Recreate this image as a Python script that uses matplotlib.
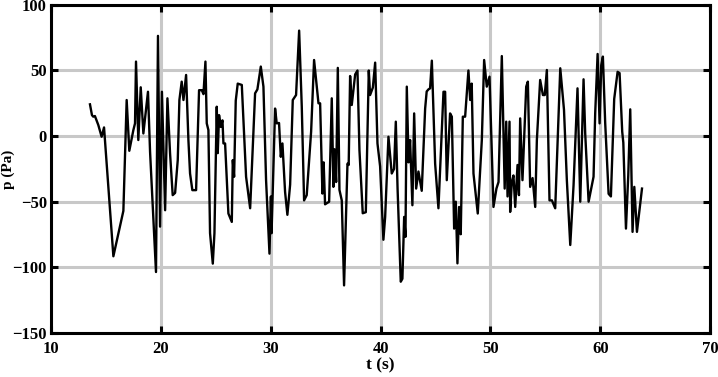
import matplotlib
matplotlib.use("Agg")
import matplotlib.pyplot as plt

# time (s) and pressure (Pa)
t = [13.55, 13.73, 13.85, 14.0, 14.31, 14.61, 14.83, 15.68, 16.59, 16.89,
     17.13, 17.5, 17.65, 17.74, 17.95, 18.17, 18.41, 18.65, 18.83, 19.02,
     19.56, 19.74, 19.93, 20.1, 20.39, 20.6, 20.84, 21.08, 21.3, 21.54,
     21.69, 21.9, 22.06, 22.3, 22.51, 22.66, 22.87, 23.21, 23.36, 23.48,
     23.73, 23.88, 24.06, 24.18, 24.33, 24.48, 24.73, 24.88, 25.09, 25.18,
     25.3, 25.46, 25.61, 25.7, 25.85, 26.15, 26.46, 26.55, 26.67, 26.82,
     27.0, 27.37, 27.76, 28.13, 28.58, 28.79, 29.1, 29.34, 29.58, 29.89,
     30.02, 30.08, 30.4, 30.55, 30.76, 30.92, 31.07, 31.31, 31.52, 31.77,
     32.01, 32.31, 32.59, 32.83, 33.04, 33.28, 33.68, 33.95, 34.35, 34.5,
     34.71, 34.82, 34.95, 35.32, 35.56, 35.71, 35.8, 35.96, 36.11, 36.26,
     36.47, 36.68, 36.99, 37.1, 37.23, 37.38, 37.69, 37.9, 38.08, 38.38,
     38.66, 38.93, 39.05, 39.3, 39.51, 39.72, 39.96, 40.26, 40.42, 40.72,
     41.02, 41.23, 41.39, 41.55, 41.63, 41.84, 41.99, 42.15, 42.27, 42.39,
     42.55, 42.69, 42.9, 43.06, 43.24, 43.45, 43.75, 44.06, 44.2, 44.36,
     44.51, 44.67, 44.97, 45.27, 45.73, 45.88, 46.03, 46.33, 46.49, 46.7,
     46.85, 47.0, 47.15, 47.3, 47.49, 47.7, 47.9, 48.0, 48.16, 48.3,
     48.46, 48.85, 49.22, 49.43, 49.67, 49.92, 50.28, 50.55, 50.74, 51.04,
     51.3, 51.44, 51.56, 51.74, 51.8, 51.95, 52.1, 52.26, 52.47, 52.6,
     52.71, 52.92, 53.26, 53.41, 53.62, 53.84, 54.08, 54.23, 54.53, 54.78,
     54.95, 55.14, 55.38, 55.6, 55.9, 56.36, 56.7, 56.96, 57.27, 57.57,
     57.93, 58.18, 58.48, 58.63, 58.94, 59.39, 59.54, 59.76, 59.94, 60.09,
     60.24, 60.45, 60.76, 60.97, 61.27, 61.58, 61.76, 62.0, 62.1, 62.34,
     62.55, 62.73, 62.94, 63.1, 63.34, 63.8]
p = [24.2, 16.0, 14.8, 15.3, 8.4, -0.5, 6.6, -91.6, -57.0, 27.5,
     -11.2, 4.6, 9.7, 56.8, -3.0, 37.2, 2.0, 19.9, 33.8, -12.0,
     -103.6, 76.4, -69.0, 33.8, -56.5, 28.8, -13.2, -45.0, -43.3, -18.3,
     27.5, 41.5, 27.5, 46.6, -3.0, -28.5, -41.2, -41.2, 2.0, 35.0,
     35.0, 32.0, 56.8, 9.7, 4.6, -74.0, -97.2, -74.0, 22.4, -13.0,
     16.0, 7.0, 12.0, -5.6, -5.6, -59.0, -65.4, -18.3, -31.0, 27.0,
     40.0, 39.0, -31.0, -55.0, 32.6, 35.6, 53.0, 37.7, -33.6, -89.6,
     -46.0, -74.0, 21.0, 9.7, 10.0, -15.8, -5.6, -42.5, -60.0, -37.0,
     27.5, 31.3, 80.4, 22.4, -49.0, -45.0, 3.3, 58.0, 25.0, 25.0,
     -43.8, -20.0, -52.0, -50.0, 28.8, -38.7, -10.0, -35.0, 52.0, -41.0,
     -49.0, -113.8, -21.0, -22.0, 45.8, 23.7, 47.0, 50.0, -10.7, -58.8,
     -58.0, 50.0, 31.3, 37.0, 56.0, -5.6, -23.0, -79.0, -61.6, -0.5,
     -28.5, -25.0, 11.0, -40.0, -60.0, -111.0, -108.7, -61.6, -76.8, 37.7,
     -20.0, -3.0, -52.7, 17.3, -40.0, -27.0, -41.7, 21.0, 34.0, 35.6,
     36.4, 57.5, -21.0, -55.0, 33.8, 33.8, -33.6, 17.3, 14.8, -70.5,
     -50.0, -97.0, -54.0, -74.8, 14.8, 14.8, 38.0, 50.0, 27.5, 40.0,
     -28.5, -59.0, -3.0, 58.0, 37.7, 45.3, -54.0, -40.0, -35.0, 61.0,
     -40.0, 11.0, -46.0, 11.0, -57.8, -35.0, -30.0, -54.0, -22.0, -45.0,
     13.5, -33.6, 37.7, 41.5, -38.7, -32.0, -54.0, -3.0, 42.8, 31.3,
     31.3, 50.4, -49.0, -49.0, -55.0, 51.7, 20.0, -33.6, -83.0, -37.4,
     36.4, -50.0, 43.3, 2.0, -50.0, -31.0, 17.3, 62.6, 9.7, 54.0,
     60.6, 10.0, -44.0, -46.0, 28.3, 49.0, 48.0, 3.3, -5.0, -70.5,
     -30.0, 20.4, -73.0, -38.7, -73.0, -40.0]

plt.rcParams['font.family'] = ['Liberation Serif', 'DejaVu Serif']
plt.rcParams['font.weight'] = 'bold'

fig = plt.figure(figsize=(7.18, 3.77), dpi=100)
ax = fig.add_axes([0.071, 0.117, 0.918, 0.870])

ax.plot(t, p, color='black', lw=1.7, zorder=3)

ax.set_xlim(10, 70)
ax.set_ylim(-150, 100)
ax.set_xticks(range(10, 71, 10))
ax.set_yticks(range(-150, 101, 50))
ax.grid(True, color='#c8c8c8', lw=2.2, zorder=0)
ax.set_axisbelow(True)

for s in ax.spines.values():
    s.set_linewidth(2.2)
ax.tick_params(direction='in', length=5, width=2.2, top=True, right=True,
               labelsize=12)
ax.tick_params(axis='x', pad=6)
ax.tick_params(axis='y', pad=3)
for lab in ax.get_xticklabels() + ax.get_yticklabels():
    lab.set_fontweight('bold')

ax.set_xlabel('t (s)', fontsize=12.5, fontweight='bold', labelpad=0)
ax.set_ylabel('p (Pa)', fontsize=11, fontweight='bold')
ax.yaxis.set_label_coords(-0.054, 0.5)

fig.savefig('out.png', dpi=100)
